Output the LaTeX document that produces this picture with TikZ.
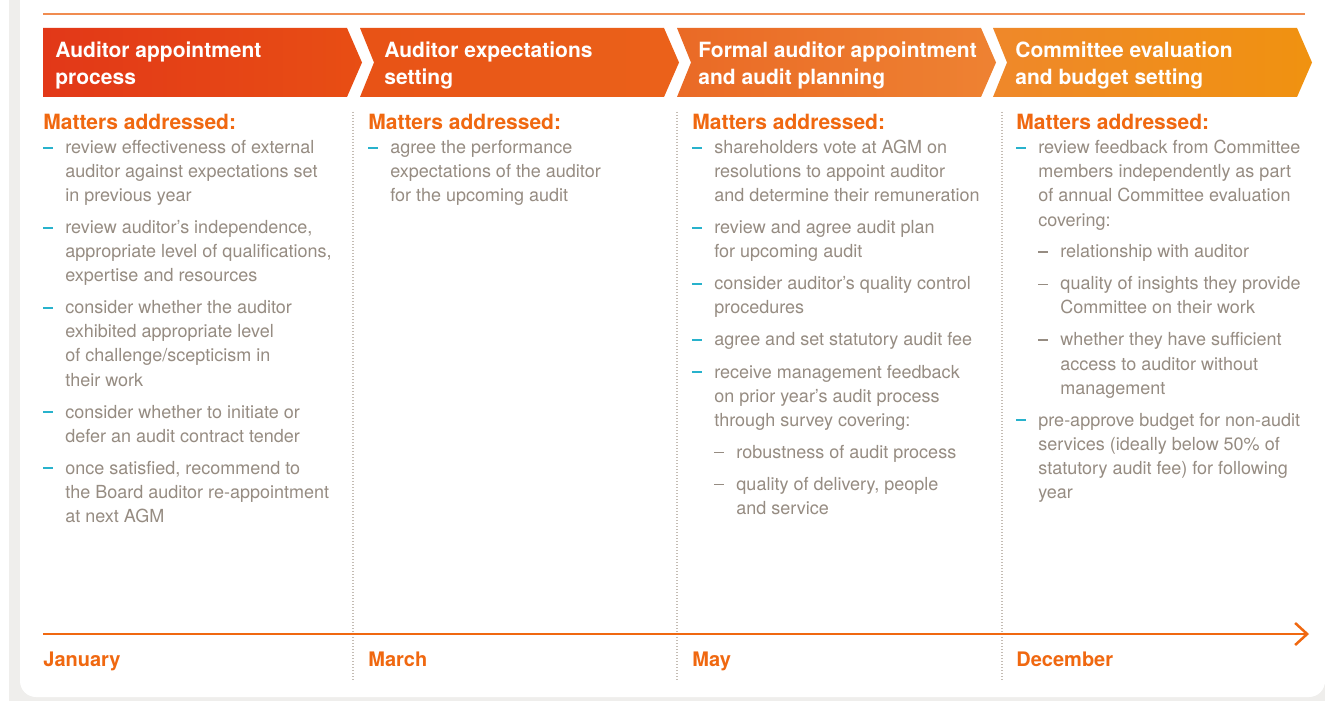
\documentclass[tikz,border=0pt]{standalone}
\usepackage{fontspec}
\setmainfont{TeX Gyre Heros}
\usepackage{xcolor}
\usetikzlibrary{arrows.meta, positioning}
\definecolor{framegray}{RGB}{239,238,236}
\definecolor{bodygray}{RGB}{150,140,130}
\definecolor{sepgray}{RGB}{196,188,180}
\definecolor{dashcyan}{RGB}{40,178,204}
\definecolor{kpmgorange}{RGB}{240,104,16}
\definecolor{lineorange}{RGB}{240,140,80}
\definecolor{hdrA}{RGB}{226,56,24}
\definecolor{hdrB}{RGB}{232,78,20}
\definecolor{hdrC}{RGB}{232,82,22}
\definecolor{hdrD}{RGB}{235,98,26}
\definecolor{hdrE}{RGB}{234,106,38}
\definecolor{hdrF}{RGB}{238,130,50}
\definecolor{hdrG}{RGB}{239,136,42}
\definecolor{hdrH}{RGB}{240,146,16}
\def\dsh{\makebox[11pt][l]{\textcolor{dashcyan}{\rule[2.4pt]{5pt}{1pt}}}}
\def\dsb{\makebox[11pt][l]{\rule[2.5pt]{5pt}{0.75pt}}}
\def\ind{\hspace*{11pt}}
\newcommand{\rowlist}[1]{\begin{tabular}[t]{@{}l@{}}#1\end{tabular}}

\begin{document}
\begin{tikzpicture}[x=0.5pt, y=-0.5pt,
    hdrtext/.style={anchor=base west, inner sep=0pt, text=white, font=\fontsize{10.5}{13.5}\selectfont\bfseries},
    matters/.style={anchor=base west, inner sep=0pt, text=kpmgorange, font=\fontsize{10.5}{12}\selectfont\bfseries},
    items/.style={anchor=base west, inner sep=0pt, text=bodygray, font=\fontsize{9}{12}\selectfont},
    month/.style={anchor=base west, inner sep=0pt, text=kpmgorange, font=\fontsize{10}{12}\selectfont\bfseries},
    sepline/.style={sepgray, line width=0.75pt, dash pattern=on 0.5pt off 1pt}]
  \useasboundingbox (0,0) rectangle (1325,700);
  \clip (0,0) rectangle (1325,700);
  % frame
  \fill[framegray, rounded corners=10pt] (9,-40) rectangle (1380,740);
  \fill[white, rounded corners=8pt] (20,-40) rectangle (1325,697);
  \draw[lineorange, line width=0.75pt] (43,14) -- (1305,14);
  % header chevrons
  \foreach \L/\n/\ca/\cb in {43/0/hdrA/hdrB, 360/14/hdrC/hdrD, 677/14/hdrE/hdrF, 993/14/hdrG/hdrH}
    \shade[left color=\ca, right color=\cb] (\L,28) -- (\L+304,28) -- (\L+319,62.5) -- (\L+304,97) -- (\L,97) -- (\L+\n,62.5) -- cycle;
  \node[hdrtext] (hdrJan) at (55,58) {\rowlist{Auditor appointment\\process}};
  \node[hdrtext] (hdrMar) at (384,58) {\rowlist{Auditor expectations\\setting}};
  \node[hdrtext] (hdrMay) at (698,58) {\rowlist{Formal auditor appointment\\and audit planning}};
  \node[hdrtext] (hdrDec) at (1015,58) {\rowlist{Committee evaluation\\and budget setting}};
  % separators
  \foreach \x in {353, 677, 1002}
    \draw[sepline] (\x,112) -- (\x,682);
  % matters addressed
  \node[matters] (matJan) at (43,130) {Matters addressed:};
  \node[matters] (matMar) at (368,130) {Matters addressed:};
  \node[matters] (matMay) at (692,130) {Matters addressed:};
  \node[matters] (matDec) at (1016,130) {Matters addressed:};
  \node[items] (itmJan) at (43,154) {\rowlist{\dsh review effectiveness of external\\ \ind auditor against expectations set\\ \ind in previous year\\[4pt]
    \dsh review auditor’s independence,\\ \ind appropriate level of qualifications,\\ \ind expertise and resources\\[4pt]
    \dsh consider whether the auditor\\ \ind exhibited appropriate level\\ \ind of challenge/scepticism in\\ \ind their work\\[4pt]
    \dsh consider whether to initiate or\\ \ind defer an audit contract tender\\[4pt]
    \dsh once satisfied, recommend to\\ \ind the Board auditor re-appointment\\ \ind at next AGM}};
  \node[items] (itmMar) at (368,154) {\rowlist{\dsh agree the performance\\ \ind expectations of the auditor\\ \ind for the upcoming audit}};
  \node[items] (itmMay) at (692,154) {\rowlist{\dsh shareholders vote at AGM on\\ \ind resolutions to appoint auditor\\ \ind and determine their remuneration\\[4pt]
    \dsh review and agree audit plan\\ \ind for upcoming audit\\[4pt]
    \dsh consider auditor’s quality control\\ \ind procedures\\[4pt]
    \dsh agree and set statutory audit fee\\[4pt]
    \dsh receive management feedback\\ \ind on prior year’s audit process\\ \ind through survey covering:\\[4pt]
    \ind\dsb robustness of audit process\\[4pt]
    \ind\dsb quality of delivery, people\\ \ind\ind and service}};
  \node[items] (itmDec) at (1016,154) {\rowlist{\dsh review feedback from Committee\\ \ind members independently as part\\ \ind of annual Committee evaluation\\ \ind covering:\\[4pt]
    \ind\dsb relationship with auditor\\[4pt]
    \ind\dsb quality of insights they provide\\ \ind\ind Committee on their work\\[4pt]
    \ind\dsb whether they have sufficient\\ \ind\ind access to auditor without\\ \ind\ind management\\[4pt]
    \dsh pre-approve budget for non-audit\\ \ind services (ideally below 50\% of\\ \ind statutory audit fee) for following\\ \ind year}};
  % timeline
  \coordinate (tlStart) at (43,634);
  \coordinate (tlEnd) at (1309,634);
  \draw[kpmgorange, line width=1.25pt, -{Straight Barb[length=6pt, width=11pt, line width=1.25pt]}] (tlStart) -- (tlEnd);
  \node[month] (monJan) at (43,666) {January};
  \node[month] (monMar) at (368,666) {March};
  \node[month] (monMay) at (692,666) {May};
  \node[month] (monDec) at (1016,666) {December};
\end{tikzpicture}
\end{document}
